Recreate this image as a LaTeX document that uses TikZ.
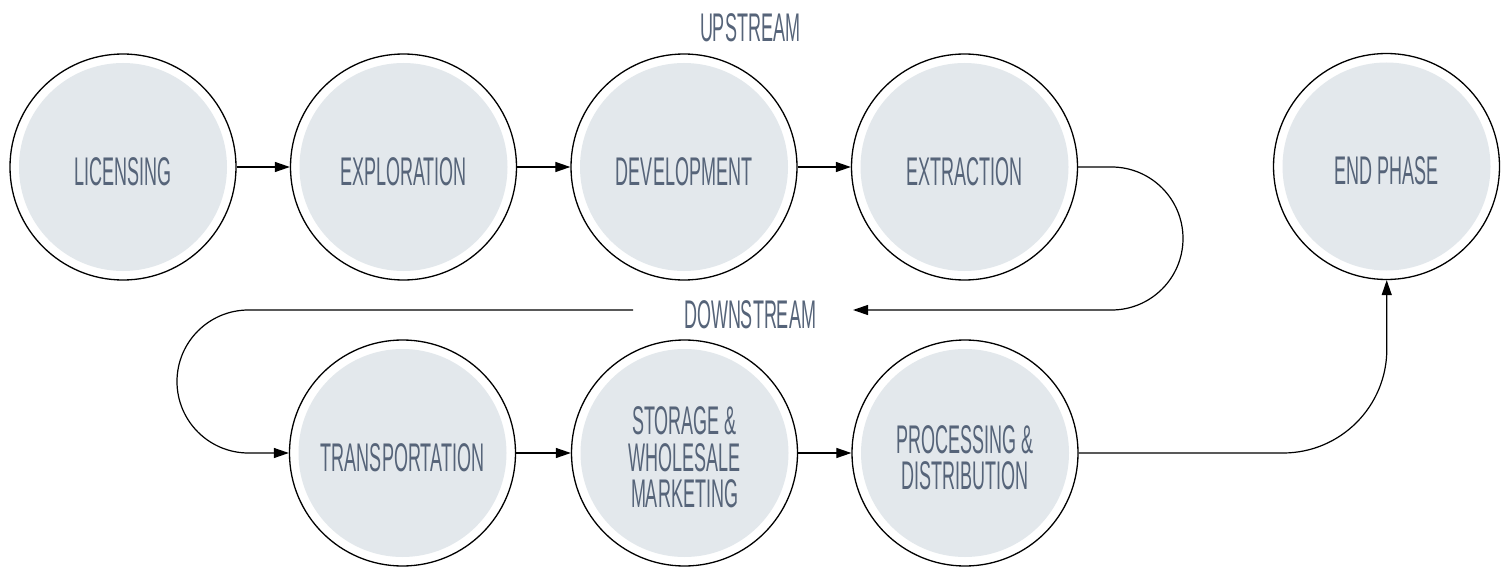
\documentclass[tikz,border=0pt]{standalone}
\usepackage{fontspec}
\newfontfamily\cond[FakeStretch=0.45]{Liberation Sans}
\usetikzlibrary{arrows.meta}
\definecolor{cfill}{RGB}{227,232,236}
\definecolor{ctext}{RGB}{86,100,121}
\tikzset{
  stage/.style={circle, draw=black, line width=1.3pt, fill=white, minimum size=226pt, inner sep=0pt,
    path picture={\fill[cfill] (path picture bounding box.center) circle (104pt);},
    label={[lbl, align=center, yshift=-4.5pt]center:#1}},
  lbl/.style={text=ctext, font=\cond\fontsize{40}{36.5}\selectfont, inner sep=0pt},
  arr/.style={line width=1.2pt, -{Triangle[length=15pt,width=10pt]}},
}
\begin{document}
\begin{tikzpicture}[x=1pt,y=-1pt]
\useasboundingbox (0,0) rectangle (1507,567);
\node[stage={LICENSING}] (lic) at (123,167) {};
\node[stage={EXPLORATION}] (exp) at (403.5,167) {};
\node[stage={DEVELOPMENT}] (dev) at (684,167) {};
\node[stage={EXTRACTION}] (ext) at (964.5,167) {};
\node[stage={END PHASE}] (end) at (1386.5,166.5) {};
\node[stage={TRANSPORTATION}] (trn) at (402.5,453) {};
\node[stage={STORAGE \&\\WHOLESALE\\MARKETING}] (sto) at (684.5,453) {};
\node[stage={PROCESSING \&\\DISTRIBUTION}] (prc) at (965,453) {};
\node[lbl] (up) at (750,28) {UPSTREAM};
\node[lbl] (down) at (750,314.5) {DOWNSTREAM};
\coordinate (dR) at (853,310);
\coordinate (dL) at (633,310);
\draw[arr] (lic) -- (exp);
\draw[arr] (exp) -- (dev);
\draw[arr] (dev) -- (ext);
\draw[arr, rounded corners=71.5pt] (ext.east) -- (1183,167) -- (1183,310) -- (dR);
\draw[arr, rounded corners=71.5pt] (dL) -- (177,310) -- (177,453) -- (trn);
\draw[arr] (trn) -- (sto);
\draw[arr] (sto) -- (prc);
\draw[arr, rounded corners=104pt] (prc) -- (1387,453) -- (end);
\end{tikzpicture}
\end{document}
